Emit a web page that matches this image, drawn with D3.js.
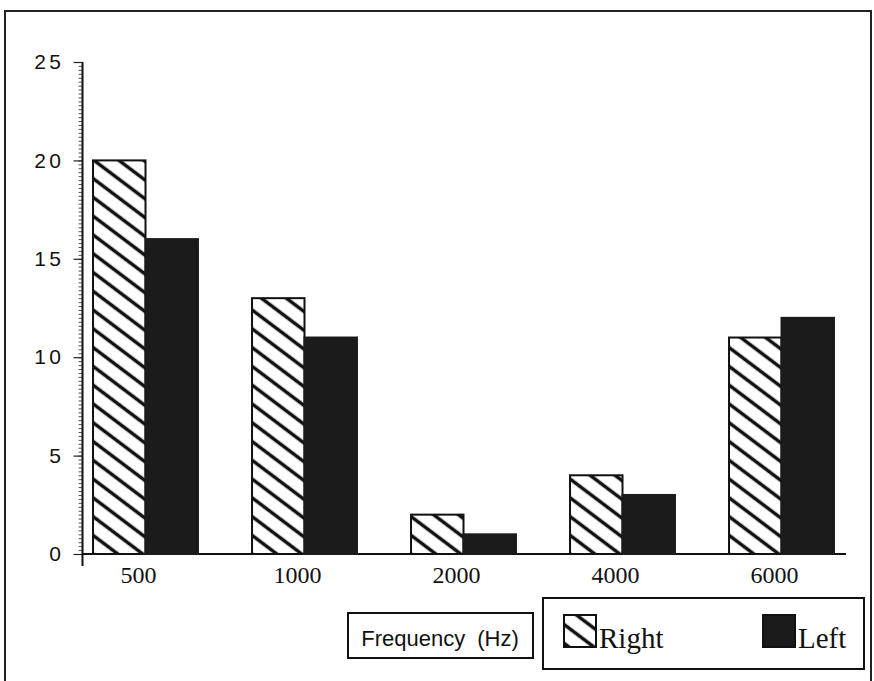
<!DOCTYPE html>
<html>
<head>
<meta charset="utf-8">
<script src="https://cdn.jsdelivr.net/npm/d3@7"></script>
<style>
  html, body { margin: 0; padding: 0; background: #fff; }
  svg { display: block; }
  .serif { font-family: "Liberation Serif", "Times New Roman", Times, serif; }
  .sans { font-family: "Liberation Sans", Arial, Helvetica, sans-serif; }
</style>
</head>
<body>
<div id="chart"></div>
<script>
// Hearing threshold change by frequency, right vs left ear

const frequencies = ['500', '1000', '2000', '4000', '6000'];
const seriesNames = ['Right', 'Left'];
const rightValues = [20, 13, 2, 4, 11];
const leftValues = [16, 11, 1, 3, 12];
const yTickValues = [0, 5, 10, 15, 20, 25];
const axisTitle = 'Frequency (Hz)';

const width = 874, height = 681;
const barBlack = '#1b1b1b';
const serifFont = '"Liberation Serif", "Times New Roman", Times, serif';

const rows = frequencies.map((f, i) => ({
    freq: f,
    values: [
        { series: 'Right', value: rightValues[i] },
        { series: 'Left', value: leftValues[i] }
    ]
}));

const svg = d3.select('#chart')
    .append('svg')
    .attr('width', width)
    .attr('height', height);

// hatch pattern for the Right ear bars
const defs = svg.append('defs');
defs.append('pattern')
    .attr('id', 'hatch')
    .attr('patternUnits', 'userSpaceOnUse')
    .attr('width', 40)
    .attr('height', 15)
    .attr('patternTransform', 'rotate(37)')
    .append('line')
    .attr('x1', -5).attr('x2', 45)
    .attr('y1', 7.5).attr('y2', 7.5)
    .attr('stroke', '#111')
    .attr('stroke-width', 3.6);

// outer frame
svg.append('rect')
    .attr('x', 5).attr('y', 11)
    .attr('width', 866).attr('height', 720)
    .attr('fill', 'none')
    .attr('stroke', '#222')
    .attr('stroke-width', 2);

// scales
const y = d3.scaleLinear().domain([0, 25]).range([554, 62]);

const x0 = d3.scaleBand()
    .domain(frequencies)
    .range([66, 861])
    .paddingInner(0.34)
    .paddingOuter(0.17);

const x1 = d3.scaleBand()
    .domain(seriesNames)
    .range([0, x0.bandwidth()]);

const axisX = 82.5;

// minor ticks
svg.append('g')
    .attr('transform', `translate(${axisX},0)`)
    .call(d3.axisLeft(y).tickValues(d3.range(0, 25.01, 0.2)).tickSize(4).tickFormat(''))
    .call(g => g.select('.domain').remove())
    .call(g => g.selectAll('line').attr('stroke', '#555').attr('stroke-width', 1));

// major ticks + labels
svg.append('g')
    .attr('transform', `translate(${axisX},0)`)
    .call(d3.axisLeft(y).tickValues(yTickValues).tickSize(9).tickPadding(9))
    .call(g => g.select('.domain').remove())
    .call(g => g.selectAll('line').attr('stroke', '#222').attr('stroke-width', 1.2))
    .call(g => g.selectAll('text')
        .attr('class', 'sans')
        .attr('font-family', null)
        .attr('font-size', 21)
        .attr('letter-spacing', 3.5)
        .attr('fill', '#111'));

// axis lines
svg.append('line')
    .attr('x1', axisX).attr('x2', axisX)
    .attr('y1', y(25)).attr('y2', 566)
    .attr('stroke', '#111').attr('stroke-width', 2);

svg.append('line')
    .attr('x1', axisX).attr('x2', 846)
    .attr('y1', y(0)).attr('y2', y(0))
    .attr('stroke', '#111').attr('stroke-width', 2);

// bars
const groups = svg.append('g')
    .selectAll('g')
    .data(rows)
    .join('g')
    .attr('transform', d => `translate(${x0(d.freq)},0)`);

groups.selectAll('rect')
    .data(d => d.values)
    .join('rect')
    .attr('x', d => x1(d.series))
    .attr('y', d => y(d.value))
    .attr('width', x1.bandwidth())
    .attr('height', d => y(0) - y(d.value))
    .attr('fill', d => d.series === 'Right' ? 'url(#hatch)' : barBlack)
    .attr('stroke', d => d.series === 'Right' ? '#111' : barBlack)
    .attr('stroke-width', 2);

// x tick labels
svg.append('g')
    .selectAll('text')
    .data(frequencies)
    .join('text')
    .attr('class', 'serif')
    .attr('font-family', serifFont)
    .attr('x', d => x0(d) + x0.bandwidth() / 2 - 7)
    .attr('y', 583)
    .attr('text-anchor', 'middle')
    .attr('font-size', 24)
    .attr('fill', '#111')
    .text(d => d);

// axis title box
svg.append('rect')
    .attr('x', 348).attr('y', 613)
    .attr('width', 185).attr('height', 45)
    .attr('fill', '#fff')
    .attr('stroke', '#111')
    .attr('stroke-width', 2);

svg.append('text')
    .attr('class', 'sans')
    .attr('x', 440).attr('y', 646)
    .attr('text-anchor', 'middle')
    .attr('font-size', 22)
    .attr('word-spacing', 6)
    .attr('fill', '#111')
    .text(axisTitle);

// legend
const legend = svg.append('g');
legend.append('rect')
    .attr('x', 543).attr('y', 598)
    .attr('width', 321).attr('height', 71)
    .attr('fill', '#fff')
    .attr('stroke', '#111')
    .attr('stroke-width', 2);

const legendItems = [
    { name: seriesNames[0], x: 564, fill: 'url(#hatch)' },
    { name: seriesNames[1], x: 763, fill: barBlack }
];

const item = legend.selectAll('g.item')
    .data(legendItems)
    .join('g')
    .attr('class', 'item')
    .attr('transform', d => `translate(${d.x},615)`);

item.append('rect')
    .attr('width', 32).attr('height', 32)
    .attr('fill', d => d.fill)
    .attr('stroke', '#111')
    .attr('stroke-width', 2);

item.append('text')
    .attr('class', 'serif')
    .attr('x', 35).attr('y', 33)
    .attr('font-size', 29)
    .attr('fill', '#111')
    .text(d => d.name);
</script>
</body>
</html>
